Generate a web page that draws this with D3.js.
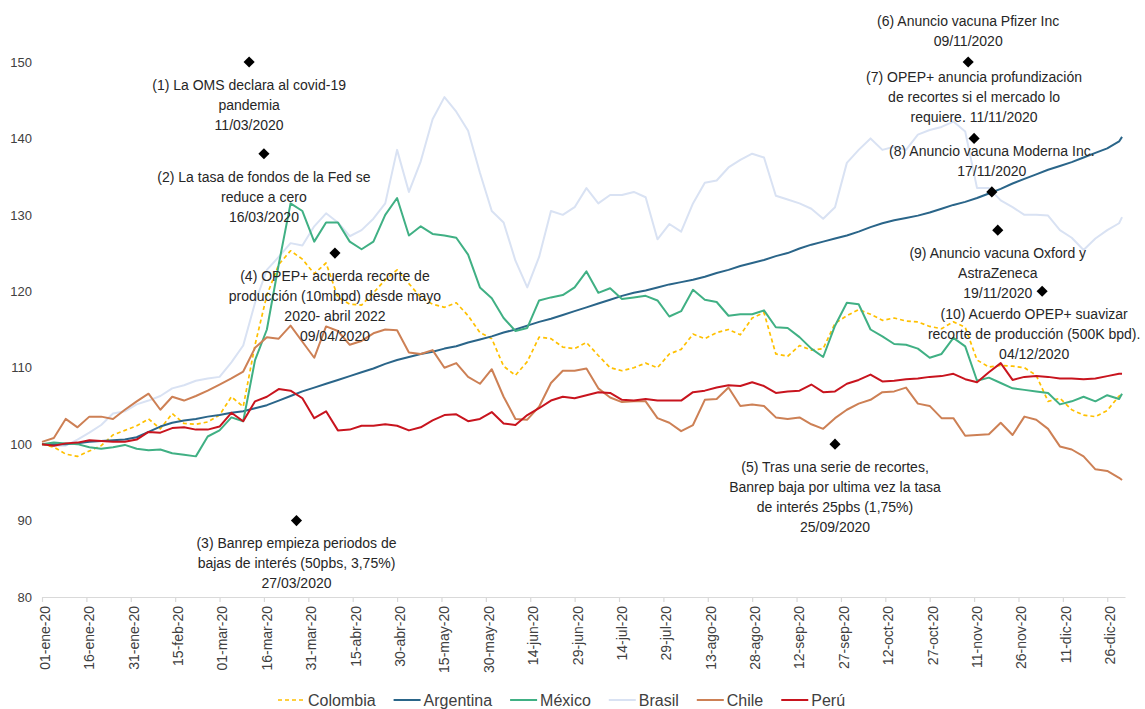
<!DOCTYPE html>
<html><head><meta charset="utf-8">
<script src="https://cdn.jsdelivr.net/npm/d3@7"></script>
<style>body{margin:0;background:#fff;} svg{display:block;font-family:"Liberation Sans",Arial,sans-serif;}</style>
</head><body><svg id="c" width="1145" height="709"></svg>
<script>
// ---------- DATA ----------
const dates = [
"2020-01-01","2020-01-05","2020-01-09","2020-01-13","2020-01-17","2020-01-21","2020-01-25","2020-01-29",
"2020-02-02","2020-02-06","2020-02-10","2020-02-14","2020-02-18","2020-02-22","2020-02-26",
"2020-03-01","2020-03-05","2020-03-09","2020-03-13","2020-03-17","2020-03-21","2020-03-25","2020-03-29",
"2020-04-02","2020-04-06","2020-04-10","2020-04-14","2020-04-18","2020-04-22","2020-04-26","2020-04-30",
"2020-05-04","2020-05-08","2020-05-12","2020-05-16","2020-05-20","2020-05-24","2020-05-28",
"2020-06-01","2020-06-05","2020-06-09","2020-06-13","2020-06-17","2020-06-21","2020-06-25","2020-06-29",
"2020-07-03","2020-07-07","2020-07-11","2020-07-15","2020-07-19","2020-07-23","2020-07-27","2020-07-31",
"2020-08-04","2020-08-08","2020-08-12","2020-08-16","2020-08-20","2020-08-24","2020-08-28",
"2020-09-01","2020-09-05","2020-09-09","2020-09-13","2020-09-17","2020-09-21","2020-09-25","2020-09-29",
"2020-10-03","2020-10-07","2020-10-11","2020-10-15","2020-10-19","2020-10-23","2020-10-27","2020-10-31",
"2020-11-04","2020-11-08","2020-11-12","2020-11-16","2020-11-20","2020-11-24","2020-11-28",
"2020-12-02","2020-12-06","2020-12-10","2020-12-14","2020-12-18","2020-12-22","2020-12-26","2020-12-30","2020-12-31"];

const colombia = [
100.0,99.6,98.7,98.4,99.1,99.8,101.2,101.8,
102.4,103.3,102.0,104.0,102.7,102.6,102.9,
103.8,106.2,104.9,113.0,119.5,123.5,125.3,124.2,
122.3,123.7,119.2,118.3,118.2,119.8,121.5,122.8,
121.0,119.2,118.3,117.9,118.5,116.8,114.6,
113.8,110.2,109.0,110.8,114.0,113.8,112.7,112.5,
113.3,111.6,110.0,109.6,110.0,110.6,110.0,111.8,
112.4,114.4,113.8,114.6,115.0,114.3,116.5,
117.2,111.8,111.5,112.9,112.3,112.5,115.8,116.8,
117.6,117.0,116.2,116.5,116.1,116.0,115.4,115.1,
116.0,115.3,111.0,110.1,110.3,110.2,110.0,
109.0,105.6,106.0,104.5,103.8,103.6,104.4,106.3,106.5];

const argentina = [
100.0,100.0,100.0,100.1,100.3,100.4,100.5,100.6,
100.9,101.6,102.3,102.8,103.1,103.3,103.6,
103.8,104.1,104.3,104.7,105.1,105.7,106.3,106.9,
107.4,107.9,108.4,108.9,109.4,109.9,110.5,111.0,
111.4,111.8,112.1,112.5,112.8,113.3,113.7,
114.1,114.6,115.0,115.5,116.0,116.4,116.9,117.4,
117.9,118.4,118.9,119.4,119.8,120.1,120.5,120.9,
121.2,121.5,121.9,122.4,122.8,123.3,123.7,
124.1,124.6,125.0,125.6,126.1,126.5,126.9,127.3,
127.8,128.4,128.9,129.3,129.6,129.9,130.3,130.8,
131.3,131.7,132.2,132.8,133.4,134.1,134.7,
135.3,135.9,136.4,136.9,137.5,138.1,138.7,139.6,140.2];

const mexico = [
100.0,100.2,100.1,100.0,99.6,99.4,99.6,99.9,
99.4,99.2,99.3,98.8,98.6,98.4,101.0,
101.8,103.5,103.0,111.0,115.0,123.5,131.5,130.5,
126.5,129.0,129.0,126.5,125.5,126.5,130.0,132.2,
127.3,128.5,127.5,127.3,127.0,124.8,120.5,
119.1,116.5,114.8,115.2,118.8,119.2,119.5,120.5,
122.6,119.8,120.4,119.0,119.2,119.4,118.8,116.7,
117.4,120.2,118.9,118.6,116.8,117.0,117.0,
117.5,115.3,115.2,114.0,112.5,111.4,115.5,118.5,
118.3,115.0,114.1,113.1,113.0,112.5,111.3,111.8,
113.9,112.8,108.3,108.7,108.0,107.3,107.1,
106.9,106.7,105.2,105.6,106.2,105.6,106.4,105.9,106.6];

const brasil = [
100.0,99.8,99.8,100.6,101.5,102.5,104.0,104.3,
105.2,105.7,106.3,107.3,107.7,108.3,108.6,
108.8,110.7,112.9,118.5,122.8,124.5,126.3,126.0,
128.5,130.2,129.0,127.2,128.0,129.5,131.5,138.5,
133.0,137.0,142.5,145.4,143.5,141.0,135.5,
130.5,129.0,124.0,120.5,124.5,130.5,130.0,131.0,
133.5,131.5,132.6,132.6,133.0,132.3,126.8,128.8,
127.8,131.5,134.2,134.5,136.2,137.2,138.0,
137.5,132.5,132.0,131.5,130.8,129.5,131.0,136.8,
138.5,140.0,138.5,138.9,138.5,140.5,141.1,141.5,
142.2,140.9,133.5,133.5,131.9,131.0,130.0,
130.0,129.9,128.0,127.0,125.4,126.9,128.0,128.9,129.7];

const chile = [
100.3,100.8,103.3,102.2,103.6,103.6,103.3,104.5,
105.6,106.6,104.5,106.2,105.7,106.3,107.0,
107.8,108.6,109.5,112.6,114.0,113.8,115.5,113.4,
111.3,115.4,114.8,113.0,113.5,114.5,115.0,114.9,
112.0,111.8,112.3,110.0,110.6,108.8,107.9,
109.8,106.2,103.3,103.2,104.9,108.0,109.6,109.6,
109.9,107.3,106.1,105.5,105.6,105.6,103.4,102.8,
101.7,102.5,105.8,105.9,107.4,105.0,105.2,
105.0,103.5,103.3,103.5,102.6,102.0,103.4,104.5,
105.3,105.8,106.8,106.9,107.4,105.3,105.0,103.4,
103.4,101.1,101.2,101.3,102.8,101.2,103.6,
103.2,102.0,99.7,99.3,98.4,96.7,96.5,95.6,95.3];

const peru = [
100.0,99.8,100.1,100.2,100.5,100.4,100.3,100.3,
100.6,101.6,101.5,102.1,102.2,101.9,101.9,
102.3,104.1,103.0,105.6,106.2,107.2,107.0,106.0,
103.4,104.3,101.8,101.9,102.4,102.4,102.6,102.4,
101.8,102.2,103.1,103.8,103.9,103.0,103.3,
104.2,102.7,102.5,103.8,104.7,105.7,106.2,106.0,
106.4,106.8,106.7,105.8,105.7,105.9,105.7,105.7,
105.7,106.8,107.0,107.4,107.7,107.6,108.1,
107.6,106.7,106.9,107.0,107.8,106.8,106.9,107.9,
108.4,109.1,108.2,108.3,108.5,108.6,108.8,108.9,
109.2,108.5,108.1,109.4,110.6,108.4,108.8,
108.9,108.8,108.6,108.6,108.5,108.6,108.9,109.2,109.2];

const seriesNames = ["Colombia","Argentina","México","Brasil","Chile","Perú"];
const seriesValues = [colombia, argentina, mexico, brasil, chile, peru];

const yTicks = [80,90,100,110,120,130,140,150];
const xTickLabels = ["01-ene-20","16-ene-20","31-ene-20","15-feb-20","01-mar-20","16-mar-20","31-mar-20",
"15-abr-20","30-abr-20","15-may-20","30-may-20","14-jun-20","29-jun-20","14-jul-20","29-jul-20",
"13-ago-20","28-ago-20","12-sep-20","27-sep-20","12-oct-20","27-oct-20","11-nov-20","26-nov-20",
"11-dic-20","26-dic-20"];

const eventDates = ["2020-03-11","2020-03-16","2020-03-27","2020-04-09","2020-09-25",
                    "2020-11-09","2020-11-11","2020-11-17","2020-11-19","2020-12-04"];
const eventValues = [150,138,90,125,100,150,140,133,128,120];
const eventLabels = [
 ["(1) La OMS declara al covid-19","pandemia","11/03/2020"],
 ["(2) La tasa de fondos de la Fed se","reduce a cero","16/03/2020"],
 ["(3) Banrep empieza periodos de","bajas de interés (50pbs, 3,75%)","27/03/2020"],
 ["(4) OPEP+ acuerda recorte de","producción (10mbpd) desde mayo","2020- abril 2022","09/04/2020"],
 ["(5) Tras una serie de recortes,","Banrep baja por ultima vez la tasa","de interés 25pbs (1,75%)","25/09/2020"],
 ["(6) Anuncio vacuna Pfizer Inc","09/11/2020"],
 ["(7) OPEP+ anuncia profundización","de recortes si el mercado lo","requiere. 11/11/2020"],
 ["(8) Anuncio vacuna Moderna Inc.","17/11/2020"],
 ["(9) Anuncio vacuna Oxford y","AstraZeneca","19/11/2020"],
 ["(10) Acuerdo OPEP+ suavizar","recorte de producción (500K bpd).","04/12/2020"]];

// ---------- LAYOUT / STYLE ----------
const labelPlacement = ["below","below","below","below","below","above","above","above","below","below"];
const labelShiftX = [0,0,0,0,0,0,0,0,0,-8];
const colors = {"Colombia":"#FFC000","Argentina":"#2A6589","México":"#40B084","Brasil":"#D9E2F3","Chile":"#CD8055","Perú":"#C8141E"};
const drawOrder = ["Brasil","Colombia","Argentina","México","Chile","Perú"];

const svg = d3.select("#c");
svg.append("rect").attr("width",1145).attr("height",709).attr("fill","#fff");
const parse = d3.utcParse("%Y-%m-%d");
const monthMap = {ene:0,feb:1,mar:2,abr:3,may:4,jun:5,jul:6,ago:7,sep:8,oct:9,nov:10,dic:11};
const parseTick = s => { const p = s.split("-"); return new Date(Date.UTC(2000+ +p[2], monthMap[p[1]], +p[0])); };

const x = d3.scaleUtc().domain([parse("2020-01-01"), parse("2021-01-01")]).range([42, 1125]);
const y = d3.scaleLinear().domain([80,155]).range([597, 597 - 75*7.643]);

// x axis
const tickDates = xTickLabels.map(parseTick);
const gx = svg.append("g").attr("transform","translate(0,597)")
  .call(d3.axisBottom(x).tickValues(tickDates).tickFormat((d,i)=>xTickLabels[i]).tickSize(5).tickSizeOuter(0));
gx.select(".domain").attr("stroke","#d9d9d9").attr("stroke-width",1.2);
gx.selectAll(".tick line").attr("stroke","#d9d9d9").attr("stroke-width",1.2);
gx.selectAll(".tick text")
  .attr("transform","rotate(-90)")
  .attr("text-anchor","end")
  .attr("x",-9).attr("y",2.5).attr("dy","0.35em")
  .attr("fill","#404040").attr("font-size",14)
  .attr("font-family","'Liberation Sans',Arial,sans-serif");

// y axis (labels only)
const gy = svg.append("g").attr("transform","translate(42,0)")
  .call(d3.axisLeft(y).tickValues(yTicks).tickSize(0).tickPadding(10));
gy.select(".domain").remove();
gy.selectAll(".tick text").attr("fill","#404040").attr("font-size",13)
  .attr("font-family","'Liberation Sans',Arial,sans-serif");

// series
const line = d3.line().x((d,i)=>x(parse(dates[i]))).y(v=>y(v));
drawOrder.forEach(name => {
  const vals = seriesValues[seriesNames.indexOf(name)];
  svg.append("path").datum(vals)
    .attr("fill","none")
    .attr("stroke",colors[name])
    .attr("stroke-width", name==="Colombia"?1.7:2)
    .attr("stroke-dasharray", name==="Colombia"?"4,3":null)
    .attr("stroke-linejoin","round")
    .attr("d",line);
});

// events
const ev = svg.append("g");
eventDates.forEach((ds,i)=>{
  const px = x(parse(ds)), py = y(eventValues[i]);
  ev.append("path").attr("d", d3.symbol(d3.symbolSquare, 62)())
    .attr("transform",`translate(${px},${py}) rotate(45)`).attr("fill","#000");
  const lines = eventLabels[i];
  const n = lines.length;
  lines.forEach((t,j)=>{
    const cy = labelPlacement[i]==="below" ? py + 23 + j*20 : py - 21 - (n-1-j)*20;
    ev.append("text").attr("x",px+labelShiftX[i]).attr("y",cy).attr("dy","0.35em")
      .attr("text-anchor","middle").attr("font-size",14).attr("fill","#262626").text(t);
  });
});

// legend
const lg = svg.append("g");
let lx = 278;
seriesNames.forEach(name=>{
  lg.append("line").attr("x1",lx).attr("x2",lx+27).attr("y1",700).attr("y2",700)
    .attr("stroke",colors[name]).attr("stroke-width",name==="Colombia"?1.7:2)
    .attr("stroke-dasharray",name==="Colombia"?"4,3":null);
  const t = lg.append("text").attr("x",lx+30).attr("y",700).attr("dy","0.35em")
    .attr("font-size",16).attr("fill","#404040").text(name);
  lx += 30 + t.node().getComputedTextLength() + 18;
});
</script></body></html>
